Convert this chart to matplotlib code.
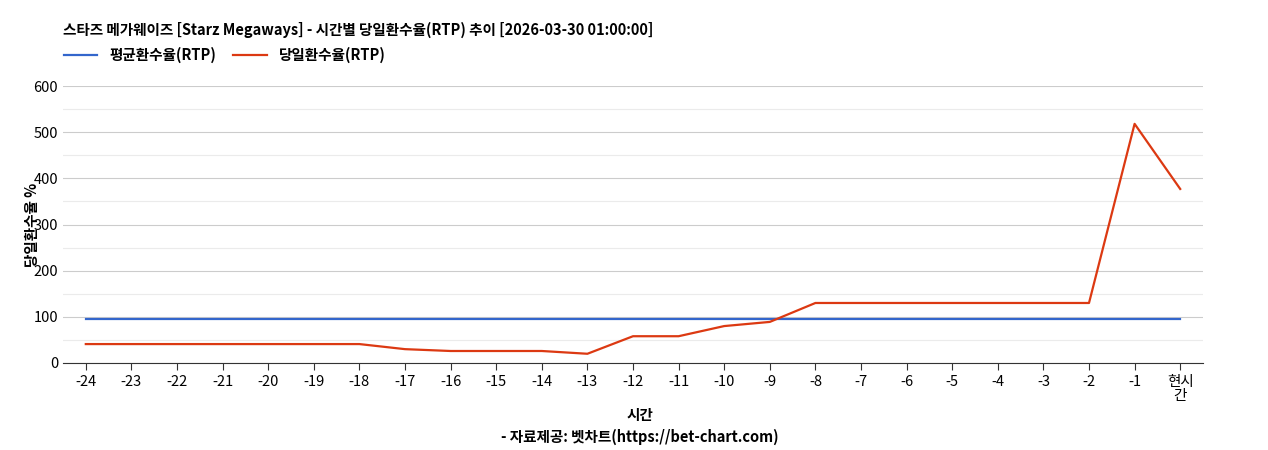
import matplotlib
matplotlib.use("Agg")
import matplotlib.pyplot as plt

plt.rcParams['font.family'] = ['Noto Sans CJK KR', 'DejaVu Sans']

hours = ["-24", "-23", "-22", "-21", "-20", "-19", "-18", "-17", "-16", "-15", "-14", "-13",
         "-12", "-11", "-10", "-9", "-8", "-7", "-6", "-5", "-4", "-3", "-2", "-1", "현시\n간"]
avg_rtp = [96] * 25
daily_rtp = [41, 41, 41, 41, 41, 41, 41, 30, 26, 26, 26, 20,
             58, 58, 80, 89, 130, 130, 130, 130, 130, 130, 130, 518, 377]

fig = plt.figure(figsize=(12.68, 4.5), dpi=100)
ax = fig.add_axes([63 / 1268, 1 - 363 / 450, (1203 - 63) / 1268, (363 - 86) / 450])
x = range(len(hours))
ax.plot(x, avg_rtp, color="#3366cc", lw=1.6, label="평균환수율(RTP)")
ax.plot(x, daily_rtp, color="#dc3912", lw=1.6, label="당일환수율(RTP)")

ax.set_xlim(-0.5, len(hours) - 0.5)
ax.set_ylim(0, 600)
ax.set_yticks(range(0, 601, 100))
ax.set_yticks(range(50, 600, 100), minor=True)
ax.grid(axis="y", which="major", color="#cccccc", lw=0.8)
ax.grid(axis="y", which="minor", color="#ebebeb", lw=0.8)
ax.tick_params(axis="y", which="both", length=0, labelsize=10.5)
ax.set_xticks(list(x))
ax.set_xticklabels(hours, fontsize=10.5, linespacing=1.0)
ax.tick_params(axis="x", length=5, color="#333333")
for s in ["top", "right", "left"]:
    ax.spines[s].set_visible(False)
ax.spines["bottom"].set_color("#333333")
ax.set_axisbelow(True)

ax.set_ylabel("당일환수율 %", fontsize=10.5, fontweight="bold")
ax.yaxis.set_label_coords(-23 / 1140, 0.5)
fig.text(640 / 1268, 1 - 415 / 450, "시간", ha="center", va="center", fontsize=10.5, fontweight="bold")
fig.text(640 / 1268, 1 - 437 / 450, "- 자료제공: 벳차트(https://bet-chart.com)", ha="center", va="center",
         fontsize=10.5, fontweight="bold")
fig.text(63 / 1268, 1 - 30 / 450, "스타즈 메가웨이즈 [Starz Megaways] - 시간별 당일환수율(RTP) 추이 [2026-03-30 01:00:00]",
         ha="left", va="center", fontsize=10.5, fontweight="bold")
fig.legend(loc="center left", bbox_to_anchor=(58 / 1268, 1 - 55 / 450), ncol=2, frameon=False,
           prop={"size": 10.5, "weight": "bold"}, handlelength=2.3, columnspacing=1.2, borderaxespad=0)

fig.savefig("out.png", dpi=100)
